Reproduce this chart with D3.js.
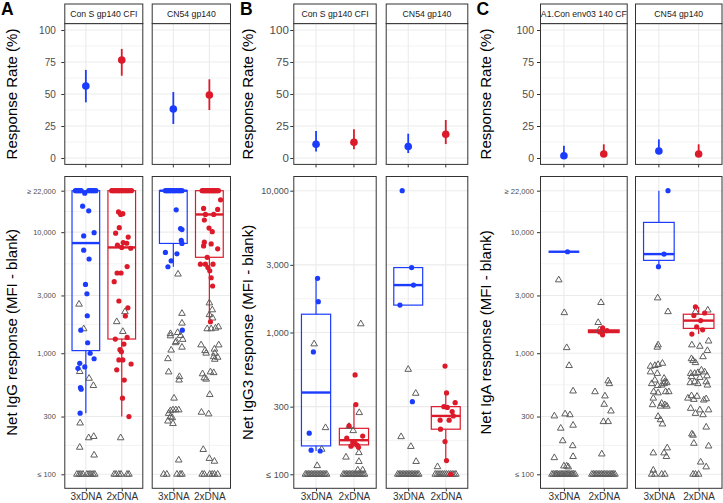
<!DOCTYPE html>
<html><head><meta charset="utf-8">
<script src="https://cdn.jsdelivr.net/npm/d3@7"></script>
<style>body{margin:0;background:#fff}svg{display:block;font-family:"Liberation Sans",Arial,Helvetica,sans-serif}</style>
</head><body><svg id="chart" width="723" height="503"></svg>
<script>
// ---------------- DATA ----------------
const groups = ["3xDNA", "2xDNA"];
const panelLetters = ["A", "B", "C"];
const stripLabels = [["Con S gp140 CFI", "CN54 gp140"], ["Con S gp140 CFI", "CN54 gp140"], ["A1.Con env03 140 CF", "CN54 gp140"]];
const rateTitle = "Response Rate (%)";
const bottomTitles = ["Net IgG response (MFI - blank)", "Net IgG3 response (MFI - blank)", "Net IgA response (MFI - blank)"];
const rateTicks = [0, 25, 50, 75, 100];
const logTicks22k = [100, 300, 1000, 3000, 10000, 22000];
const logLabels22k = ["\u2264 100", "300", "1,000", "3,000", "10,000", "\u2265 22,000"];
const logTicks10k = [100, 300, 1000, 3000, 10000];
const logLabels10k = ["\u2264 100", "300", "1,000", "3,000", "10,000"];

// response rate estimate / lower / upper per facet, [3xDNA, 2xDNA]
const rateEstA = [[56.3, 76.6], [38.3, 49.2]];
const rateLoA  = [[43.5, 64.3], [26.6, 37.5]];
const rateHiA  = [[68.8, 85.2], [51.6, 61.5]];
const rateEstB = [[10.8, 12.3], [9.0, 18.5]];
const rateLoB  = [[5.0, 6.8], [3.9, 10.9]];
const rateHiB  = [[21.1, 22.5], [19.0, 29.7]];
const rateEstC = [[1.8, 3.1], [5.5, 3.1]];
const rateLoC  = [[0.0, 1.3], [3.1, 1.3]];
const rateHiC  = [[9.6, 10.7], [14.6, 10.7]];

// bottom panels: [jitter (category units), value]; pos = responders, neg = non-responders
const posA1_3x = [[-0.29,22000],[-0.25,22000],[-0.21,22000],[-0.17,22000],[-0.13,22000],[0.08,22000],[0.13,22000],[0.18,22000],[0.23,22000],[0.28,22000],
  [-0.03,21000],[-0.09,16400],[0.08,15000],[-0.06,9300],[0.23,9900],[-0.06,7100],[0.09,6000],[-0.01,3700],[0.03,3100],[0.04,2040],[-0.14,1550],[0.05,1220],[-0.17,825],[-0.22,750],[-0.03,770],[0.12,1000],[0.23,900],[-0.15,520],[-0.13,505],[-0.16,320]];
const negA1_3x = [[-0.19,2540],[-0.06,1590],[-0.17,705],[0.09,620],[0.21,540],[-0.16,265],[0.08,200],[0.22,205],[-0.17,167],[0.23,144],
  [-0.25,100],[-0.19,100],[-0.14,100],[-0.08,100],[0.03,100],[0.09,100],[0.14,100],[0.2,100],[0.25,100]];
const posA1_2x = [[-0.28,22000],[-0.23,22000],[-0.18,22000],[-0.13,22000],[-0.08,22000],[-0.03,22000],[0.02,22000],[0.08,22000],[0.14,22000],[0.2,22000],[0.27,22000],
  [-0.09,14700],[-0.03,14000],[0.03,14200],[-0.07,10900],[-0.17,9800],[0.18,9100],[0.04,8200],[0.14,8100],[0,7480],[-0.12,7800],[0.25,7360],[0.15,5200],[-0.02,4600],[-0.13,4600],[-0.21,3900],[-0.08,2700],[0.17,2370],[0.1,2030],[-0.18,1310],[0.06,1190],[0.15,1350],[-0.05,1070],[-0.01,1030],[-0.08,880],[0.03,880],[0.26,815],[-0.14,730],[0.07,600],[0.02,425],[0.2,300]];
const negA1_2x = [[0.09,2200],[-0.14,1820],[0.03,1510],[-0.03,200],[-0.21,100],[-0.16,100],[-0.08,100],[-0.02,100],[0.15,100],[0.2,100]];
const posA2_3x = [[-0.22,22000],[-0.18,22000],[-0.14,22000],[-0.1,22000],[-0.05,22000],[0,22000],[0.04,22000],[0.09,22000],[0.14,22000],[0.19,22000],[0.24,22000],
  [0.08,15300],[0.2,10700],[0.24,10500],[0.22,8540],[0.24,8070],[-0.22,6800],[0.1,6620],[-0.06,5800],[-0.15,5180],[0.25,1550]];
const negA2_3x = [[0.13,4500],[0.24,2130],[0.24,1770],[-0.08,1450],[0.12,1480],[-0.08,1390],[0.08,1250],[0.06,1220],[0.2,1400],[0.26,1300],[0.24,1120],[-0.06,1060],[-0.15,900],[-0.13,700],[0.17,640],[0.16,600],[0.02,425],[-0.01,340],[-0.08,335],[0.15,340],[0.07,340],[-0.13,318],[-0.08,298],[-0.15,275],[-0.03,293],[-0.01,262],[0.15,131],
  [-0.27,100],[-0.18,100],[0.1,100],[0.19,100],[0.24,100]];
const posA2_2x = [[-0.2,22000],[-0.16,22000],[-0.12,22000],[-0.08,22000],[-0.04,22000],[0,22000],[0.04,22000],[0.08,22000],[0.12,22000],[0.16,22000],[0.2,22000],[0.25,22000],
  [0.31,18500],[-0.16,15700],[0.23,15400],[-0.11,14000],[0.12,14000],[-0.14,12600],[-0.01,10800],[0.08,10100],[-0.14,8260],[0.05,8000],[-0.16,7700],[0.23,7290],[-0.25,5440],[-0.11,5440],[0.1,5440],[-0.06,6200],[-0.04,5100],[0.01,4800],[0.05,4200],[0.09,3590],[0.03,1820]];
const negA2_2x = [[0,2600],[0.08,2280],[0,2080],[0.09,1950],[-0.06,1590],[0.05,1590],[0.17,1610],[0.25,1650],[-0.23,1170],[-0.12,1050],[-0.09,1000],[0.14,1080],[0.15,1000],[0.26,1170],[0.12,935],[0.23,925],[0.15,890],[-0.19,675],[-0.14,625],[-0.09,610],[0.03,700],[0.12,690],[0.01,455],[-0.22,325],[-0.02,315],[-0.17,160],[0,135],[0.14,128],
  [-0.2,100],[-0.14,100],[0.01,100],[0.08,100],[0.14,100],[0.23,100]];

const posB1_3x = [[0.04,2410],[0.06,1650],[-0.07,730],[-0.18,195],[-0.13,148],[0.11,146]];
const negB1_3x = [[-0.05,830],[0.25,213],[0.15,150],[0.03,115],
  [-0.28,100],[-0.24,100],[-0.2,100],[-0.16,100],[-0.12,100],[-0.08,100],[-0.04,100],[0,100],[0.04,100],[0.08,100],[0.12,100],[0.16,100],[0.2,100],[0.24,100],[0.28,100]];
const posB1_2x = [[0.03,502],[0.05,310],[-0.13,220],[0.23,186],[-0.19,180],[-0.03,168],[0.03,165],[0.09,160],[-0.08,158],[0.12,155]];
const negB1_2x = [[0.18,1150],[0.14,272],[-0.13,217],[-0.02,203],[-0.21,132],[0.13,142],[0.13,123],[0.1,107],[0.23,107],
  [-0.28,100],[-0.24,100],[-0.2,100],[-0.16,100],[-0.12,100],[-0.08,100],[-0.04,100],[0,100],[0.04,100],[0.08,100],[0.12,100],[0.16,100],[0.2,100],[0.24,100],[0.28,100]];
const posB2_3x = [[-0.16,10000],[0.09,2870],[0.14,2160],[-0.22,1560],[0.11,325]];
const negB2_3x = [[0,549],[0.2,372],[-0.19,184],[0.07,157],[0.21,123],
  [-0.28,100],[-0.24,100],[-0.2,100],[-0.16,100],[-0.12,100],[-0.08,100],[-0.04,100],[0,100],[0.04,100],[0.08,100],[0.12,100],[0.16,100],[0.2,100],[0.24,100],[0.28,100]];
const posB2_2x = [[-0.02,580],[0.02,375],[0.25,320],[-0.05,300],[0.17,277],[0.04,296],[-0.15,241],[0.09,241],[0.2,258],[-0.14,208],[-0.02,170],[0.02,125],[0.13,100]];
const negB2_2x = [[-0.22,113],
  [-0.28,100],[-0.23,100],[-0.18,100],[-0.13,100],[-0.08,100],[-0.03,100],[0.02,100],[0.07,100],[0.12,100],[0.17,100],[0.22,100],[0.27,100]];

const posC1_3x = [[0.09,6890]];
const negC1_3x = [[-0.13,4030],[0.01,2160],[0.07,1110],[0.13,790],[0.23,487],[-0.24,303],[0.03,315],[0.15,310],[-0.08,240],[0.23,254],[-0.03,189],[0.22,172],[-0.24,137],[0.23,140],[0,117],[0.07,117],[0.11,115],
  [-0.3,100],[-0.26,100],[-0.22,100],[-0.19,100],[-0.16,100],[-0.12,100],[-0.08,100],[-0.05,100],[-0.02,100],[0.02,100],[0.05,100],[0.08,100],[0.11,100],[0.14,100],[0.18,100],[0.21,100],[0.24,100],[0.28,100]];
const posC1_2x = [[-0.03,1420],[-0.1,1500],[0.08,1540],[-0.03,1620]];
const negC1_2x = [[-0.07,2620],[-0.14,1790],[-0.11,1560],[0.11,590],[-0.22,480],[0.14,560],[0.03,443],[0.01,378],[0.18,333],[-0.01,272],[0.11,272],[-0.05,147],
  [-0.3,100],[-0.26,100],[-0.22,100],[-0.18,100],[-0.14,100],[-0.1,100],[-0.06,100],[-0.02,100],[0.02,100],[0.06,100],[0.1,100],[0.14,100],[0.18,100],[0.21,100],[0.24,100],[0.28,100]];
const posC2_3x = [[0.23,22000],[0.13,6590],[-0.01,5190]];
const negC2_3x = [[-0.03,2860],[0.23,2200],[-0.02,1170],[-0.04,1120],[-0.21,780],[-0.1,790],[-0.02,805],[0.09,825],[-0.21,700],[-0.04,680],[0.13,620],[0.15,580],[0.2,570],[0.13,560],[-0.1,600],[-0.18,560],[-0.03,540],[-0.13,480],[0.07,545],[0.17,480],[0.25,480],[-0.02,470],[-0.14,425],[0.07,385],[0.15,375],[0.2,365],[-0.16,375],[0.04,365],[-0.02,300],[0.04,282],[0.09,260],[-0.14,150],[0.21,165],[0.13,150],[0.19,140],[-0.14,108],
  [-0.18,100],[-0.1,100],[0.07,100],[0.15,100]];
const posC2_2x = [[-0.17,1440],[0.1,1560],[-0.05,1650],[0.05,1860],[-0.12,2050],[0.15,2150],[-0.08,2420]];
const negC2_2x = [[-0.08,2200],[0.23,2270],[-0.17,1170],[0.03,1140],[0.25,1260],[0.22,1050],[-0.18,900],[-0.14,870],[-0.08,835],[0.11,935],[-0.2,680],[-0.1,680],[-0.02,690],[0.07,725],[0.15,700],[0.21,650],[-0.18,640],[0.03,630],[0.19,580],[-0.1,580],[-0.21,570],[-0.02,560],[0.22,545],[-0.27,425],[-0.18,445],[-0.12,415],[0.13,410],[0.19,420],[-0.04,440],[-0.2,350],[0.03,340],[0.25,340],[-0.08,318],[0.11,310],[0.19,245],[-0.17,215],[-0.14,210],[-0.12,180],[0.25,171],[0.05,126],[0.19,115],
  [-0.14,100],[-0.08,100],[0,100]];

// ---------------- ASSEMBLY ----------------
const rateEst = [rateEstA, rateEstB, rateEstC];
const rateLo = [rateLoA, rateLoB, rateLoC];
const rateHi = [rateHiA, rateHiB, rateHiC];
const posData = [[[posA1_3x, posA1_2x], [posA2_3x, posA2_2x]], [[posB1_3x, posB1_2x], [posB2_3x, posB2_2x]], [[posC1_3x, posC1_2x], [posC2_3x, posC2_2x]]];
const negData = [[[negA1_3x, negA1_2x], [negA2_3x, negA2_2x]], [[negB1_3x, negB1_2x], [negB2_3x, negB2_2x]], [[negC1_3x, negC1_2x], [negC2_3x, negC2_2x]]];
const logTicks = [logTicks22k, logTicks10k, logTicks22k];
const logLabels = [logLabels22k, logLabels10k, logLabels22k];

// ---------------- LAYOUT / STYLE ----------------
const BLUE = "#1b3cff", RED = "#dc1a2a", GREY = "#5e5e5e";
const groupColors = [BLUE, RED];
const GRID = "#ebebeb", BORDER = "#333333";
const stripTop = 4, topY0 = 23.6, topY1 = 164.4;
const botY0 = 176.5, botY1 = 488.3;
const layout = [
  { letterX: 1, titleX: 16.5, facets: [[64.3, 143.3], [151.7, 231]], gap: 5.5, topFont: 10, botFont: 7.4 },
  { letterX: 240, titleX: 253, facets: [[293.3, 376.7], [385.7, 468.3]], gap: 1.5, topFont: 11.5, botFont: 9 },
  { letterX: 476.5, titleX: 490.5, facets: [[540, 627.7], [635, 722.5]], gap: 3, topFont: 10.5, botFont: 7.6 }
];

const svg = d3.select("#chart");
svg.append("rect").attr("width", 723).attr("height", 503).attr("fill", "#fff");

const yRate = d3.scaleLinear().domain([0, 100]).range([158, 30]);
const rateMinor = [12.5, 37.5, 62.5, 87.5];

function boxStats(vals) {
  const l = vals.map(v => Math.log10(v)).sort(d3.ascending);
  const q1 = d3.quantile(l, 0.25), med = d3.quantile(l, 0.5), q3 = d3.quantile(l, 0.75);
  const iqr = q3 - q1;
  const lo = d3.min(l.filter(v => v >= q1 - 1.5 * iqr));
  const hi = d3.max(l.filter(v => v <= q3 + 1.5 * iqr));
  return { q1: 10 ** q1, med: 10 ** med, q3: 10 ** q3, lo: 10 ** lo, hi: 10 ** hi };
}

layout.forEach((L, s) => {
  const g = svg.append("g");
  const ticks = logTicks[s];
  const yLog = d3.scaleLog().domain([100, ticks[ticks.length - 1]]).range([474.3, 190.7]);
  const logMinor = d3.pairs(ticks).map(([a, b]) => Math.sqrt(a * b));

  g.append("text").attr("x", L.letterX).attr("y", 14.5).attr("font-size", 17.5).attr("font-weight", "bold").attr("fill", "#000").text(panelLetters[s]);
  g.append("text").attr("transform", `translate(${L.titleX},${(topY0 + topY1) / 2}) rotate(-90)`).attr("text-anchor", "middle")
    .attr("font-size", 15).attr("fill", "#000").text(rateTitle);
  g.append("text").attr("transform", `translate(${L.titleX},${(botY0 + botY1) / 2}) rotate(-90)`).attr("text-anchor", "middle")
    .attr("font-size", 15).attr("fill", "#000").text(bottomTitles[s]);

  L.facets.forEach(([x0, x1], f) => {
    const x = d3.scaleLinear().domain([0.4, 2.6]).range([x0, x1]);
    const bw = 0.77;

    // ---------- TOP PANEL ----------
    const tp = g.append("g");
    tp.append("rect").attr("x", x0).attr("y", topY0).attr("width", x1 - x0).attr("height", topY1 - topY0).attr("fill", "#fff");
    tp.selectAll(".mn").data(rateMinor).join("line").attr("x1", x0).attr("x2", x1).attr("y1", d => yRate(d)).attr("y2", d => yRate(d)).attr("stroke", GRID).attr("stroke-width", 0.6);
    tp.selectAll(".mj").data(rateTicks).join("line").attr("x1", x0).attr("x2", x1).attr("y1", d => yRate(d)).attr("y2", d => yRate(d)).attr("stroke", GRID).attr("stroke-width", 1.1);
    tp.selectAll(".vx").data([1, 2]).join("line").attr("x1", d => x(d)).attr("x2", d => x(d)).attr("y1", topY0).attr("y2", topY1).attr("stroke", GRID).attr("stroke-width", 1.1);
    const est = rateEst[s][f], lo = rateLo[s][f], hi = rateHi[s][f];
    tp.selectAll(".er").data([0, 1]).join("line").attr("x1", i => x(i + 1)).attr("x2", i => x(i + 1))
      .attr("y1", i => yRate(lo[i])).attr("y2", i => yRate(hi[i])).attr("stroke", i => groupColors[i]).attr("stroke-width", 1.8);
    tp.selectAll(".pt").data([0, 1]).join("circle").attr("cx", i => x(i + 1)).attr("cy", i => yRate(est[i])).attr("r", 3.8).attr("fill", i => groupColors[i]);
    tp.append("rect").attr("x", x0 + 0.5).attr("y", topY0).attr("width", x1 - x0 - 1).attr("height", topY1 - topY0).attr("fill", "none").attr("stroke", BORDER).attr("stroke-width", 1);
    tp.append("rect").attr("x", x0 + 0.5).attr("y", stripTop).attr("width", x1 - x0 - 1).attr("height", topY0 - stripTop).attr("fill", "#fff").attr("stroke", BORDER).attr("stroke-width", 1);
    tp.append("text").attr("x", (x0 + x1) / 2).attr("y", (stripTop + topY0) / 2 + 3).attr("text-anchor", "middle").attr("font-size", 8.7).attr("fill", "#1a1a1a").text(stripLabels[s][f]);
    tp.selectAll(".xt").data([1, 2]).join("line").attr("x1", d => x(d)).attr("x2", d => x(d)).attr("y1", topY1).attr("y2", topY1 + 3).attr("stroke", BORDER).attr("stroke-width", 1);

    // ---------- BOTTOM PANEL ----------
    const bp = g.append("g");
    bp.append("rect").attr("x", x0).attr("y", botY0).attr("width", x1 - x0).attr("height", botY1 - botY0).attr("fill", "#fff");
    bp.selectAll(".mn").data(logMinor).join("line").attr("x1", x0).attr("x2", x1).attr("y1", d => yLog(d)).attr("y2", d => yLog(d)).attr("stroke", GRID).attr("stroke-width", 0.6);
    bp.selectAll(".mj").data(ticks).join("line").attr("x1", x0).attr("x2", x1).attr("y1", d => yLog(d)).attr("y2", d => yLog(d)).attr("stroke", GRID).attr("stroke-width", 1.1);
    bp.selectAll(".vx").data([1, 2]).join("line").attr("x1", d => x(d)).attr("x2", d => x(d)).attr("y1", botY0).attr("y2", botY1).attr("stroke", GRID).attr("stroke-width", 1.1);

    [0, 1].forEach(gi => {
      const pos = posData[s][f][gi], neg = negData[s][f][gi];
      const col = groupColors[gi];
      const cx = gi + 1;
      const b = boxStats(pos.map(d => d[1]));
      const bg = bp.append("g");
      bg.append("line").attr("x1", x(cx)).attr("x2", x(cx)).attr("y1", yLog(b.q3)).attr("y2", yLog(b.hi)).attr("stroke", col).attr("stroke-width", 1.2);
      bg.append("line").attr("x1", x(cx)).attr("x2", x(cx)).attr("y1", yLog(b.q1)).attr("y2", yLog(b.lo)).attr("stroke", col).attr("stroke-width", 1.2);
      bg.append("rect").attr("x", x(cx - bw / 2)).attr("width", x(cx + bw / 2) - x(cx - bw / 2))
        .attr("y", yLog(b.q3)).attr("height", Math.max(0, yLog(b.q1) - yLog(b.q3))).attr("fill", "none").attr("stroke", col).attr("stroke-width", 1.2);
      bg.append("line").attr("x1", x(cx - bw / 2)).attr("x2", x(cx + bw / 2)).attr("y1", yLog(b.med)).attr("y2", yLog(b.med)).attr("stroke", col).attr("stroke-width", 2.4);

      bp.append("g").selectAll("path").data(neg).join("path")
        .attr("d", d3.symbol(d3.symbolTriangle, 19))
        .attr("transform", d => `translate(${x(cx + d[0])},${yLog(d[1])})`)
        .attr("fill", "none").attr("stroke", GREY).attr("stroke-width", 1);
      bp.append("g").selectAll("circle").data(pos).join("circle")
        .attr("cx", d => x(cx + d[0])).attr("cy", d => yLog(d[1])).attr("r", 2.6).attr("fill", col);
    });
    bp.append("rect").attr("x", x0 + 0.5).attr("y", botY0).attr("width", x1 - x0 - 1).attr("height", botY1 - botY0).attr("fill", "none").attr("stroke", BORDER).attr("stroke-width", 1);

    const xa = bp.append("g").attr("transform", `translate(0,${botY1})`)
      .call(d3.axisBottom(x).tickValues([1, 2]).tickFormat(d => groups[d - 1]).tickSize(3).tickPadding(2).tickSizeOuter(0));
    xa.select(".domain").remove();
    xa.selectAll("line").attr("stroke", BORDER);
    xa.selectAll("text").attr("font-size", 10).attr("fill", "#333").attr("font-family", null);

    if (f === 0) {
      const ya = g.append("g").attr("transform", `translate(${x0},0)`)
        .call(d3.axisLeft(yRate).tickValues(rateTicks).tickSize(3).tickPadding(L.gap).tickSizeOuter(0));
      ya.select(".domain").remove();
      ya.selectAll("line").attr("stroke", BORDER);
      ya.selectAll("text").attr("font-size", L.topFont).attr("fill", "#4d4d4d").attr("font-family", null);
      const yb = g.append("g").attr("transform", `translate(${x0},0)`)
        .call(d3.axisLeft(yLog).tickValues(ticks).tickFormat((d, i) => logLabels[s][i]).tickSize(3).tickPadding(L.gap).tickSizeOuter(0));
      yb.select(".domain").remove();
      yb.selectAll("line").attr("stroke", BORDER);
      yb.selectAll("text").attr("font-size", L.botFont).attr("fill", "#4d4d4d").attr("font-family", null);
    }
  });
});
</script></body></html>
